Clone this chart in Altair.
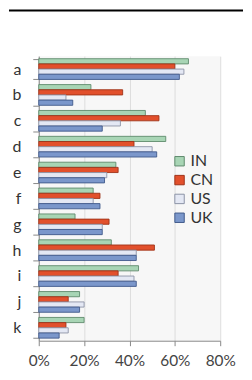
import altair as alt
import pandas as pd

categories = list("abcdefghijk")
series = ["IN", "CN", "US", "UK"]
IN = [66, 23, 47, 56, 34, 24, 16, 32, 44, 18, 20]
CN = [60, 37, 53, 42, 35, 27, 31, 51, 35, 13, 12]
US = [64, 12, 36, 50, 30, 24, 28, 43, 42, 20, 13]
UK = [62, 15, 28, 52, 29, 27, 28, 43, 43, 18, 9]
x_ticks = [0, 0.2, 0.4, 0.6, 0.8]

fills = ["#a8d5b5", "#e2502c", "#e4e8f4", "#7b97cb"]
strokes = ["#5e8a6c", "#9e3318", "#8c93a6", "#40598a"]

rows = []
for s, vals in zip(series, [IN, CN, US, UK]):
    for c, v in zip(categories, vals):
        rows.append({"cat": c, "series": s, "value": v / 100})
df = pd.DataFrame(rows)

FONT = "Lato"

bars = alt.Chart(df).mark_bar(strokeWidth=0.9).encode(
    y=alt.Y("cat:N", sort=categories,
            scale=alt.Scale(paddingInner=0.2, paddingOuter=0.1),
            axis=alt.Axis(title=None, labelFontSize=16, labelColor="#333",
                          labelFont=FONT, tickBand="extent", tickSize=6,
                          tickColor="#888", domainColor="#888",
                          labelPadding=12, minExtent=30, grid=False)),
    yOffset=alt.YOffset("series:N", sort=series,
                        scale=alt.Scale(paddingInner=0, paddingOuter=0)),
    x=alt.X("value:Q", scale=alt.Scale(domain=[0, 0.8]),
            axis=alt.Axis(title=None, format=".0%", values=x_ticks,
                          labelFontSize=15.5, labelColor="#444", labelFont=FONT,
                          labelOverlap=False, labelFlush=False,
                          tickSize=5, tickColor="#888", domainColor="#888",
                          gridColor="#dddddd", labelPadding=8)),
    color=alt.Color("series:N", sort=series,
                    scale=alt.Scale(domain=series, range=fills),
                    legend=alt.Legend(title=None, orient="none", legendX=134,
                                      legendY=98, symbolType="square",
                                      symbolSize=90, symbolStrokeColor="#777",
                                      symbolStrokeWidth=1, labelFontSize=16,
                                      labelFont=FONT, labelColor="#333",
                                      rowPadding=3, labelOffset=3)),
    stroke=alt.Stroke("series:N", sort=series,
                      scale=alt.Scale(domain=series, range=strokes),
                      legend=None),
)

top_line = alt.Chart(pd.DataFrame({"v": [0]})).mark_rule(
    color="black", strokeWidth=2
).encode(x=alt.value(-30), x2=alt.value(206), y=alt.value(-46))

chart = alt.layer(bars, top_line).properties(
    width=183, height=287, padding=0
).configure_view(fill="#f7f7f7", strokeWidth=0)

chart.save("out.html", embed_options={"renderer": "svg", "actions": False})
